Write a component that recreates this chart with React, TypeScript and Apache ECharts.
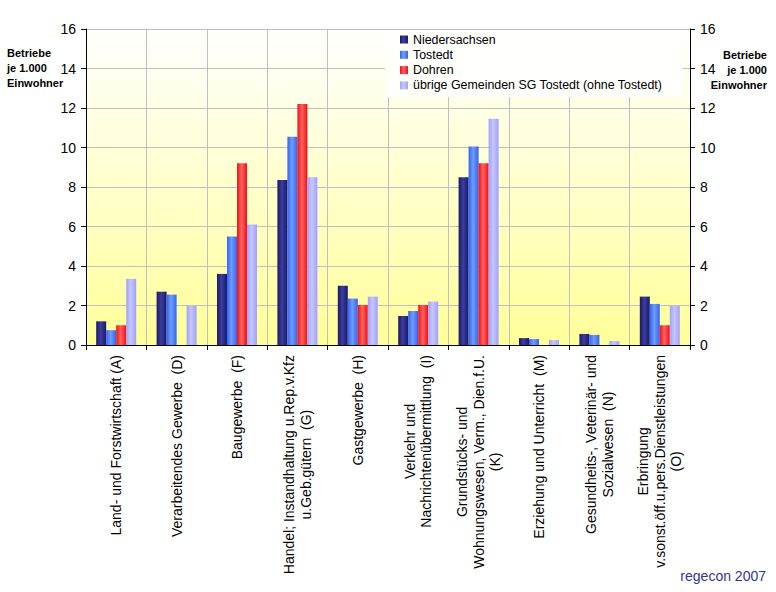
import React, { useEffect, useRef } from "react";
import * as echarts from "echarts";

const categories = [
  "Land- und Forstwirtschaft (A)",
  "Verarbeitendes Gewerbe  (D)",
  "Baugewerbe  (F)",
  "Handel; Instandhaltung u.Rep.v.Kfz\nu.Geb.gütern  (G)",
  "Gastgewerbe  (H)",
  "Verkehr und\nNachrichtenübermittlung  (I)",
  "Grundstücks- und\nWohnungswesen, Verm., Dien.f.U.\n(K)",
  "Erziehung und Unterricht  (M)",
  "Gesundheits-, Veterinär- und\nSozialwesen  (N)",
  "Erbringung\nv.sonst.öff.u.pers.Dienstleistungen\n(O)",
];

const seriesNames = [
  "Niedersachsen",
  "Tostedt",
  "Dohren",
  "übrige Gemeinden SG Tostedt (ohne Tostedt)",
];

const niedersachsen = [1.2, 2.7, 3.6, 8.35, 3.0, 1.47, 8.5, 0.35, 0.56, 2.45];
const tostedt = [0.75, 2.55, 5.5, 10.55, 2.35, 1.72, 10.05, 0.3, 0.51, 2.08];
const dohren = [1.0, 0, 9.2, 12.2, 2.03, 2.03, 9.2, 0, 0, 1.0];
const uebrige = [3.35, 1.98, 6.1, 8.5, 2.45, 2.2, 11.45, 0.25, 0.2, 1.98];

const yTicks = { min: 0, max: 16, interval: 2 };

const axisTitleLines = ["Betriebe", "je 1.000", "Einwohner"];

const FONT = "Arial, 'Liberation Sans', sans-serif";

function shade(edge: string, mid: string) {
  return new echarts.graphic.LinearGradient(1, 0, 0, 0, [
    { offset: 0, color: edge },
    { offset: 0.55, color: mid },
    { offset: 1, color: edge },
  ]);
}

export default function App() {
  const ref = useRef<HTMLDivElement>(null);
  useEffect(() => {
    if (!ref.current) return;
    const chart = echarts.init(ref.current, undefined, { renderer: "svg" });
    const colors = [
      shade("#18186a", "#3d3d9e"),
      shade("#3363f0", "#6f9cff"),
      shade("#f01010", "#ff6262"),
      shade("#a0a0ff", "#c6c6ff"),
    ];
    const datasets = [niedersachsen, tostedt, dohren, uebrige];
    const yAxisCommon = {
      type: "value" as const,
      min: yTicks.min,
      max: yTicks.max,
      interval: yTicks.interval,
      axisLine: { show: true, lineStyle: { color: "#000", width: 1 } },
      axisTick: { show: true, length: 5, lineStyle: { color: "#000" } },
      axisLabel: { color: "#000", fontSize: 14, fontFamily: FONT, margin: 10 },
    };
    const titleStyle = {
      fontSize: 11,
      fontWeight: "bold",
      fontFamily: FONT,
      fill: "#000",
      verticalAlign: "middle",
    };
    const leftTitle = axisTitleLines.map((t, i) => ({
      type: "text",
      x: 7,
      y: 53 + i * 15,
      style: { ...titleStyle, text: t, align: "left" },
    }));
    const rightTitle = axisTitleLines.map((t, i) => ({
      type: "text",
      x: 767,
      y: 55 + i * 15,
      style: { ...titleStyle, text: t, align: "right" },
    }));
    chart.setOption({
      animation: false,
      backgroundColor: "#ffffff",
      grid: {
        left: 86,
        right: 86,
        top: 29,
        bottom: 247,
        containLabel: false,
        show: true,
        borderWidth: 0,
        backgroundColor: new echarts.graphic.LinearGradient(0, 0, 0, 1, [
          { offset: 0, color: "#ffffff" },
          { offset: 1, color: "#ffff99" },
        ]),
      },
      legend: {
        orient: "vertical",
        left: 385,
        top: 30,
        data: seriesNames,
        itemWidth: 8,
        itemHeight: 8,
        itemGap: 2.3,
        icon: "rect",
        padding: [3, 20, 5, 15],
        backgroundColor: "#fffffc",
        textStyle: { color: "#000", fontSize: 12.4, fontFamily: FONT, lineHeight: 13 },
      },
      xAxis: {
        type: "category",
        data: categories,
        axisLine: { show: true, lineStyle: { color: "#000" } },
        axisTick: { show: true, length: 5, lineStyle: { color: "#000" } },
        splitLine: { show: true, lineStyle: { color: "#c0c0c0", width: 1 } },
        axisLabel: {
          interval: 0,
          rotate: 90,
          margin: 10,
          color: "#000",
          fontSize: 14,
          fontFamily: FONT,
          lineHeight: 16.5,
          formatter: (v: string) =>
            v
              .split("\n")
              .map((l) => `{c|${l}}`)
              .join("\n"),
          rich: {
            c: { align: "center", fontSize: 14, fontFamily: FONT, lineHeight: 16.5, color: "#000" },
          },
        },
      },
      yAxis: [
        {
          ...yAxisCommon,
          position: "left",
          splitLine: { show: true, lineStyle: { color: "#c0c0c0", width: 1 } },
        },
        {
          ...yAxisCommon,
          position: "right",
          splitLine: { show: false },
        },
      ],
      graphic: [
        ...leftTitle,
        ...rightTitle,
        {
          type: "text",
          x: 766,
          y: 576,
          style: {
            text: "regecon 2007",
            fontSize: 14,
            fontFamily: FONT,
            fill: "#333399",
            align: "right",
            verticalAlign: "middle",
          },
        },
      ],
      series: seriesNames.map((name, i) => ({
        name,
        type: "bar",
        yAxisIndex: 0,
        data: datasets[i],
        barWidth: 10,
        barGap: "0%",
        itemStyle: { color: colors[i] },
      })),
    });
    return () => chart.dispose();
  }, []);
  return (
    <div
      ref={ref}
      style={{ position: "fixed", left: 0, top: 0, width: 776, height: 592 }}
    />
  );
}
